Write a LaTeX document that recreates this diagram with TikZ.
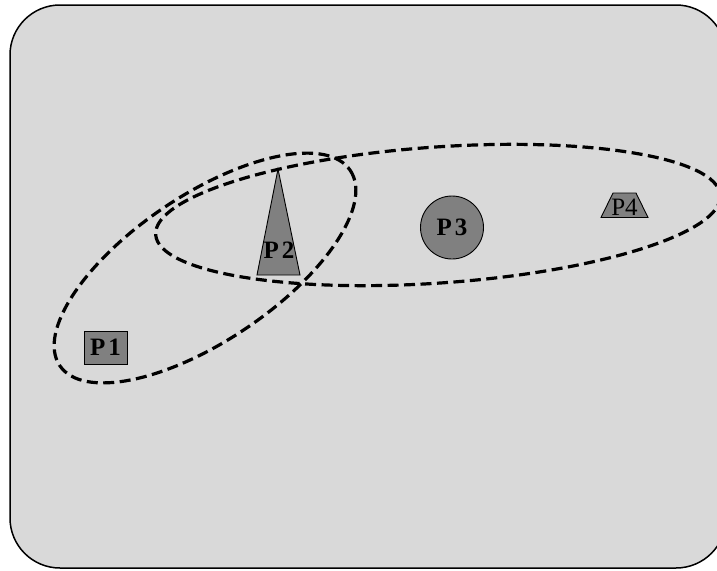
\documentclass[tikz,border=0pt]{standalone}
\usepackage{fontspec}
\setmainfont{Liberation Serif}
\begin{document}
\begin{tikzpicture}[x=1pt,y=-1pt,
  frame/.style={draw=black,line width=1.5pt,fill=bgfill,rounded corners=50pt},
  shapefill/.style={draw=black,line width=0.9pt,fill=shapegray},
  lbl/.style={inner sep=0pt,font=\bfseries\fontsize{25}{25}\selectfont},
  lblr/.style={inner sep=0pt,font=\fontsize{25}{25}\selectfont},
  ell/.style={draw=black,line width=3.2pt,dash pattern=on 11pt off 5.5pt}]
\definecolor{bgfill}{RGB}{217,217,217}
\definecolor{shapegray}{RGB}{128,128,128}
\useasboundingbox (0,0) rectangle (717,570);
\path[frame] (10,5) rectangle (726,568);
% P1
\node[shapefill,rectangle,minimum width=43pt,minimum height=33pt,inner sep=0pt] (p1) at (105.5,347.5) {};
\node[lbl] (p1l) at (p1.center) {P\kern3pt1};
% P2
\draw[shapefill] (278,169) -- (300,275) -- (257,275) -- cycle;
\node[lbl] (p2) at (279,250) {P\kern3pt2};
% P3
\node[shapefill,circle,minimum size=63pt,inner sep=0pt] (p3) at (452,227.5) {};
\node[lbl] (p3l) at (p3.center) {P\kern3pt3};
% P4
\draw[shapefill] (613,193) -- (636,193) -- (648,217.5) -- (601,217.5) -- cycle;
\node[lblr] (p4) at (624.5,207) {P4};
% ellipses
\draw[ell,shift={(205,268)},rotate=33.9] (0,0) ellipse [x radius=175, y radius=73];
\draw[ell,shift={(438,215)},rotate=4] (0,0) ellipse [x radius=283, y radius=68];
\end{tikzpicture}
\end{document}
